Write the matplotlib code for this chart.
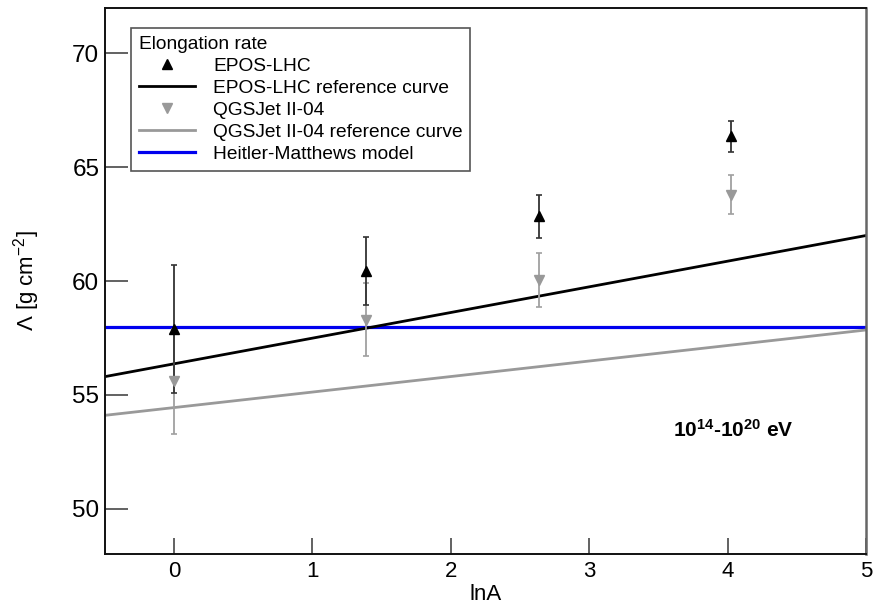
import matplotlib.pyplot as plt
import numpy as np

plt.rcParams['font.family'] = ['Liberation Sans', 'DejaVu Sans']
plt.rcParams['mathtext.fontset'] = 'custom'
plt.rcParams['mathtext.rm'] = 'Liberation Sans'
plt.rcParams['mathtext.bf'] = 'Liberation Sans:bold'

# ln A of p, He, N, Fe
lnA = np.array([0.0, 1.386, 2.639, 4.025])

# elongation rate for each hadronic model (g/cm^2)
epos = np.array([57.9, 60.45, 62.85, 66.35])
epos_err = np.array([2.8, 1.5, 0.95, 0.7])
qgs = np.array([55.6, 58.3, 60.05, 63.8])
qgs_err = np.array([2.3, 1.6, 1.2, 0.85])

# reference curves, evaluated at the ends of the lnA range
ref_lnA = np.array([-0.5, 5.0])
epos_ref = np.array([55.8, 62.0])
qgs_ref = np.array([54.1, 57.85])
hm_model = np.array([58.0, 58.0])

fig = plt.figure(figsize=(8.81, 6.07), dpi=100)
ax = fig.add_axes([0.119, 0.087, 0.864, 0.9])

ax.plot(ref_lnA, hm_model, color='#0000ee', lw=2.3, label='Heitler-Matthews model', zorder=2)
ax.plot(ref_lnA, epos_ref, color='k', lw=2.0, label='EPOS-LHC reference curve', zorder=2)
ax.plot(ref_lnA, qgs_ref, color='#999999', lw=2.0, label='QGSJet II-04 reference curve', zorder=2)

ax.errorbar(lnA, qgs, yerr=qgs_err, fmt='none', ecolor='#a0a0a0', elinewidth=1.3,
            capsize=2.5, capthick=1.2, zorder=3)
ax.errorbar(lnA, epos, yerr=epos_err, fmt='none', ecolor='#333333', elinewidth=1.3,
            capsize=2.5, capthick=1.2, zorder=4)
ax.plot(lnA, qgs, 'v', color='#999999', ms=7.5, ls='none', label='QGSJet II-04', zorder=5)
ax.plot(lnA, epos, '^', color='k', ms=7.5, ls='none', label='EPOS-LHC', zorder=6)

ax.set_xlim(-0.5, 5)
ax.set_ylim(48, 72)
ax.set_xticks([0, 1, 2, 3, 4, 5])
ax.set_yticks([50, 55, 60, 65, 70])
ax.tick_params(axis='both', direction='in', color='#555555', width=1.3)
ax.tick_params(axis='y', length=16.5, labelsize=17.5, pad=4)
ax.tick_params(axis='x', length=11.5, labelsize=16, pad=5)
for side in ['left', 'bottom', 'top']:
    ax.spines[side].set_linewidth(1.4)
    ax.spines[side].set_color('#111111')
ax.spines['right'].set_linewidth(1.8)
ax.spines['right'].set_color('#666666')

ax.set_xlabel('lnA', fontsize=16, labelpad=1.5)
ax.set_ylabel(r'$\Lambda$ [g cm$^{-2}$]', fontsize=16, labelpad=22)

ax.text(4.04, 53.45, r'$\mathbf{10^{14}}$-$\mathbf{10^{20}}$ eV', fontsize=15,
        fontweight='bold', ha='center', va='center')

handles, labels = ax.get_legend_handles_labels()
order = ['EPOS-LHC', 'EPOS-LHC reference curve', 'QGSJet II-04',
         'QGSJet II-04 reference curve', 'Heitler-Matthews model']
hmap = dict(zip(labels, handles))
leg = ax.legend([hmap[k] for k in order], order, title='Elongation rate',
                loc='upper left', bbox_to_anchor=(0.035, 0.963), borderaxespad=0,
                fontsize=13.8, title_fontsize=13.8, alignment='left',
                handlelength=2.9, handletextpad=0.95, labelspacing=0.24,
                borderpad=0.4, fancybox=False, framealpha=1)
leg.get_frame().set_edgecolor('#555555')
leg.get_frame().set_linewidth(1.2)

fig.savefig('out.png', dpi=100)
